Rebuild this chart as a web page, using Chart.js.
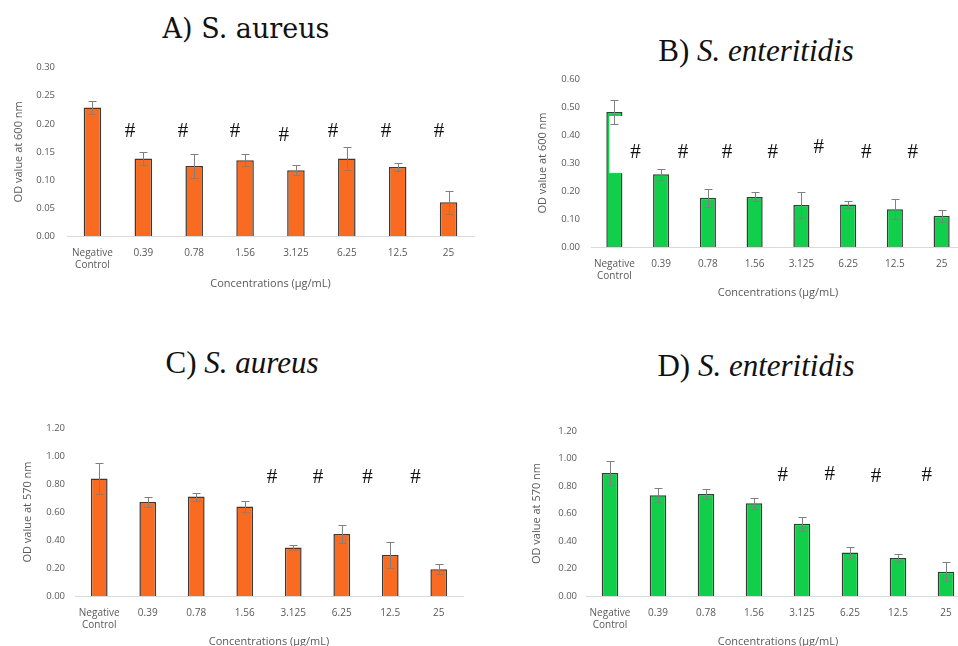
<!DOCTYPE html>
<html lang="en">
<head>
  <meta charset="UTF-8" />
  <title>OD values by concentration</title>
  <script src="https://cdn.jsdelivr.net/npm/chart.js"></script>
  <style>
    body {
      margin: 0;
      background: #fff;
    }
    #page {
      position: relative;
      width: 958px;
      height: 646px;
      overflow: hidden;
      background: #fff;
    }
    canvas {
      position: absolute;
    }
    .panel-title {
      position: absolute;
      text-align: center;
      line-height: 1;
      color: #111;
      white-space: nowrap;
    }
    .serif-a { font-family: "DejaVu Serif", serif; font-size: 27px; }
    .serif { font-family: "Liberation Serif", "Times New Roman", serif; font-size: 31px; }
  </style>
</head>
<body>
  <div id="page">
    <div class="panel-title serif-a" style="left:96px; width:300px; top:15px;">A) S. aureus</div>
    <div class="panel-title serif" style="left:606px; width:300px; top:35px;">B) <i>S. enteritidis</i></div>
    <div class="panel-title serif" style="left:92px; width:300px; top:347px;">C) <i>S. aureus</i></div>
    <div class="panel-title serif" style="left:606px; width:300px; top:350px;">D) <i>S. enteritidis</i></div>

    <canvas id="chartA" width="480" height="250" style="left:0; top:50px;"></canvas>
    <canvas id="chartB" width="495" height="250" style="left:480px; top:60px;"></canvas>
    <canvas id="chartC" width="480" height="246" style="left:0; top:410px;"></canvas>
    <canvas id="chartD" width="500" height="246" style="left:480px; top:410px;"></canvas>
  </div>

  <script>
    // categorias (concentraciones en µg/mL)
    const concentrations = [["Negative", "Control"], "0.39", "0.78", "1.56", "3.125", "6.25", "12.5", "25"];

    // A) S. aureus - OD 600 nm
    const valuesA = [0.229, 0.138, 0.125, 0.135, 0.117, 0.138, 0.123, 0.060];
    const errA    = [0.012, 0.012, 0.022, 0.011, 0.009, 0.020, 0.007, 0.021];
    const hashPosA = [0.74, 1.78, 2.80, 3.76, 4.73, 5.77, 6.81];
    const hashYA   = [0.186, 0.186, 0.186, 0.179, 0.186, 0.186, 0.186];

    // B) S. enteritidis - OD 600 nm
    const valuesB = [0.482, 0.260, 0.176, 0.179, 0.150, 0.152, 0.135, 0.112];
    const errB    = [0.044, 0.020, 0.032, 0.016, 0.047, 0.013, 0.035, 0.021];
    const hashPosB = [0.45, 1.47, 2.41, 3.39, 4.37, 5.39, 6.38];
    const hashYB   = [0.339, 0.339, 0.339, 0.339, 0.354, 0.339, 0.339];

    // C) S. aureus - OD 570 nm
    const valuesC = [0.840, 0.671, 0.710, 0.640, 0.346, 0.442, 0.292, 0.191];
    const errC    = [0.112, 0.038, 0.028, 0.040, 0.020, 0.062, 0.095, 0.036];
    const hashPosC = [3.56, 4.51, 5.53, 6.52];
    const hashYC   = [0.843, 0.843, 0.843, 0.843];

    // D) S. enteritidis - OD 570 nm
    const valuesD = [0.895, 0.733, 0.742, 0.675, 0.525, 0.317, 0.276, 0.177];
    const errD    = [0.090, 0.052, 0.033, 0.040, 0.050, 0.042, 0.030, 0.069];
    const hashPosD = [3.60, 4.58, 5.54, 6.60];
    const hashYD   = [0.878, 0.885, 0.872, 0.878];

    const orange = "#f96b21";
    const green = "#10cf4a";
    const textGrey = "#595959";
    const uiFont = "'Open Sans', 'Liberation Sans', sans-serif";

    // barras de error + marcas "#" (y el hueco blanco del panel B)
    const extrasPlugin = {
      id: "extras",
      afterDatasetsDraw(chart, args, opts) {
        const ctx = chart.ctx;
        const x = chart.scales.x;
        const y = chart.scales.y;
        const meta = chart.getDatasetMeta(0);
        const step = x.getPixelForValue(1) - x.getPixelForValue(0);

        if (opts.mask) {
          const bar = meta.data[opts.mask.index];
          const top = y.getPixelForValue(opts.mask.from);
          const bottom = y.getPixelForValue(opts.mask.to);
          ctx.save();
          ctx.fillStyle = "#fff";
          ctx.fillRect(bar.x - bar.width / 2 + 3, top, bar.width, bottom - top);
          ctx.restore();
        }

        ctx.save();
        ctx.strokeStyle = "#808080";
        ctx.lineWidth = 1;
        meta.data.forEach((bar, i) => {
          const v = chart.data.datasets[0].data[i];
          const e = opts.errors[i];
          const yTop = Math.round(y.getPixelForValue(v + e)) + 0.5;
          const yBot = Math.round(y.getPixelForValue(v - e)) + 0.5;
          const cx = Math.round(bar.x) + 0.5;
          ctx.beginPath();
          ctx.moveTo(cx, yTop);
          ctx.lineTo(cx, yBot);
          ctx.moveTo(cx - 4, yTop);
          ctx.lineTo(cx + 4, yTop);
          ctx.moveTo(cx - 4, yBot);
          ctx.lineTo(cx + 4, yBot);
          ctx.stroke();
        });
        ctx.restore();

        ctx.save();
        ctx.fillStyle = "#111";
        ctx.font = "21px 'Liberation Serif', serif";
        ctx.textAlign = "center";
        ctx.textBaseline = "middle";
        opts.hashPos.forEach((p, i) => {
          const px = x.getPixelForValue(0) + p * step;
          ctx.fillText("#", px, y.getPixelForValue(opts.hashY[i]));
        });
        ctx.restore();
      }
    };

    function makeChart(id, values, color, box, axis, extras) {
      return new Chart(document.getElementById(id), {
        type: "bar",
        data: {
          labels: concentrations,
          datasets: [{
            data: values,
            backgroundColor: color,
            borderColor: "#3a3a3a",
            borderWidth: 1.5,
            categoryPercentage: 1,
            barPercentage: 0.345
          }]
        },
        options: {
          responsive: false,
          animation: false,
          layout: { padding: { top: box.top, right: box.right, left: 0, bottom: 0 } },
          plugins: {
            legend: { display: false },
            tooltip: { enabled: false },
            extras: extras
          },
          scales: {
            x: {
              offset: true,
              grid: { display: false },
              border: { display: true, color: "#d9d9d9", width: 1 },
              ticks: {
                color: textGrey,
                font: { family: uiFont, size: 10 },
                padding: 3,
                maxRotation: 0,
                autoSkip: false
              },
              title: {
                display: true,
                text: "Concentrations (µg/mL)",
                color: textGrey,
                font: { family: uiFont, size: 11 },
                padding: { top: 0, bottom: box.titleBottom }
              },
              afterFit: s => { s.height = box.xHeight; }
            },
            y: {
              min: 0,
              max: axis.max,
              grid: { display: false, drawTicks: false },
              border: { display: false },
              ticks: {
                stepSize: axis.step,
                color: textGrey,
                font: { family: uiFont, size: 9.5 },
                padding: box.tickPad,
                callback: v => Number(v).toFixed(2)
              },
              title: {
                display: true,
                text: axis.title,
                color: textGrey,
                font: { family: uiFont, size: 11 },
                padding: { top: box.titleLeft, bottom: 0 }
              },
              afterFit: s => { s.width = box.yWidth; }
            }
          }
        },
        plugins: [extrasPlugin]
      });
    }

    makeChart("chartA", valuesA, orange,
      { top: 10, right: 6, xHeight: 64, titleBottom: 10, yWidth: 67, tickPad: 12, titleLeft: 12 },
      { max: 0.30, step: 0.05, title: "OD value at 600 nm" },
      { errors: errA, hashPos: hashPosA, hashY: hashYA });

    makeChart("chartB", valuesB, green,
      { top: 19, right: 10, xHeight: 63, titleBottom: 11, yWidth: 111, tickPad: 11, titleLeft: 56 },
      { max: 0.60, step: 0.10, title: "OD value at 600 nm" },
      { errors: errB, hashPos: hashPosB, hashY: hashYB, mask: { index: 0, from: 0.468, to: 0.264 } });

    makeChart("chartC", valuesC, orange,
      { top: 18, right: 17, xHeight: 60, titleBottom: 8, yWidth: 75, tickPad: 10, titleLeft: 21 },
      { max: 1.20, step: 0.20, title: "OD value at 570 nm" },
      { errors: errC, hashPos: hashPosC, hashY: hashYC });

    makeChart("chartD", valuesD, green,
      { top: 21, right: 10, xHeight: 60, titleBottom: 8, yWidth: 106, tickPad: 9, titleLeft: 50 },
      { max: 1.20, step: 0.20, title: "OD value at 570 nm" },
      { errors: errD, hashPos: hashPosD, hashY: hashYD });
  </script>
</body>
</html>
